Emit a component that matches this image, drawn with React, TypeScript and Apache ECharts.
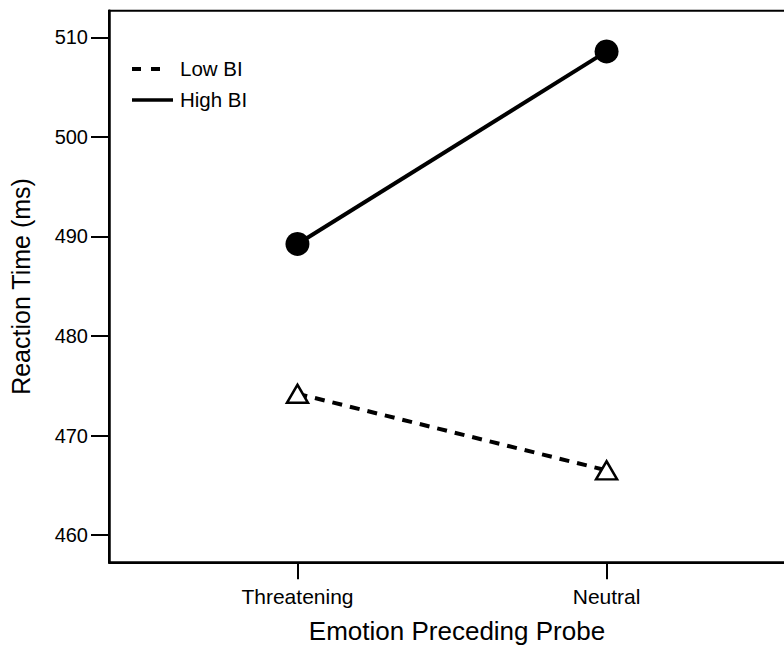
import React, { useEffect, useRef } from "react";
import * as echarts from "echarts";

const categories = ["Threatening", "Neutral"];
const lowBI = [474.2, 466.5];
const highBI = [489.25, 508.6];
const yTicks = [460, 470, 480, 490, 500, 510];
const xTicks = [0, 1];
const legendNames = ["Low BI", "High BI"];
const xTitle = "Emotion Preceding Probe";
const yTitle = "Reaction Time (ms)";

const FONT = "'Liberation Sans', Arial, sans-serif";

export default function App() {
  const ref = useRef<HTMLDivElement>(null);
  useEffect(() => {
    if (!ref.current) return;
    const chart = echarts.init(ref.current, undefined, { renderer: "svg" });
    const toPts = (arr: number[]) => arr.map((v, i) => [i, v]);
    chart.setOption({
      animation: false,
      backgroundColor: "#ffffff",
      textStyle: { fontFamily: FONT, color: "#000" },
      grid: {
        left: 107,
        right: 0,
        top: 10.7,
        bottom: 87.7,
        show: true,
        borderColor: "#000",
        borderWidth: 2,
        containLabel: false,
      },
      xAxis: {
        type: "value",
        min: -0.6097,
        max: 1.6419,
        name: xTitle,
        nameLocation: "middle",
        nameGap: 56,
        nameTextStyle: { fontSize: 26, color: "#000", fontFamily: FONT },
        axisLine: { show: true, onZero: false, lineStyle: { color: "#000", width: 2 } },
        axisTick: {
          show: true,
          inside: false,
          length: 17,
          customValues: xTicks,
          lineStyle: { color: "#000", width: 2 },
        },
        axisLabel: {
          show: true,
          margin: 24,
          fontSize: 21,
          color: "#000",
          fontFamily: FONT,
          customValues: xTicks,
          formatter: (v: number) => categories[Math.round(v)] ?? "",
        },
        splitLine: { show: false },
      },
      yAxis: {
        type: "value",
        min: 457.26,
        max: 512.69,
        name: yTitle,
        nameLocation: "middle",
        nameGap: 76,
        nameTextStyle: { fontSize: 25, color: "#000", fontFamily: FONT },
        axisLine: { show: true, onZero: false, lineStyle: { color: "#000", width: 2.5 } },
        axisTick: {
          show: true,
          inside: false,
          length: 18,
          customValues: yTicks,
          lineStyle: { color: "#000", width: 2 },
        },
        axisLabel: {
          show: true,
          margin: 21,
          fontSize: 20,
          color: "#000",
          fontFamily: FONT,
          customValues: yTicks,
        },
        splitLine: { show: false },
      },
      graphic: [
        {
          type: "line",
          shape: { x1: 132, y1: 69, x2: 162, y2: 69 },
          style: { stroke: "#000", lineWidth: 4, lineDash: [9, 10] },
        },
        {
          type: "text",
          left: 180,
          top: 58,
          style: { text: legendNames[0], font: `20.5px ${FONT}`, fill: "#000" },
        },
        {
          type: "line",
          shape: { x1: 132, y1: 100, x2: 173, y2: 100 },
          style: { stroke: "#000", lineWidth: 3.5 },
        },
        {
          type: "text",
          left: 180,
          top: 89,
          style: { text: legendNames[1], font: `20.5px ${FONT}`, fill: "#000" },
        },
      ],
      series: [
        {
          name: legendNames[0],
          type: "line",
          data: toPts(lowBI),
          symbol: "triangle",
          symbolSize: [21, 18],
          itemStyle: { color: "#fff", borderColor: "#000", borderWidth: 2.5 },
          lineStyle: { color: "#000", width: 4, type: [10, 8] },
          z: 3,
        },
        {
          name: legendNames[1],
          type: "line",
          data: toPts(highBI),
          symbol: "circle",
          symbolSize: 24,
          itemStyle: { color: "#000", borderColor: "#000", borderWidth: 0 },
          lineStyle: { color: "#000", width: 4 },
          z: 3,
        },
      ],
    });
    return () => chart.dispose();
  }, []);
  return (
    <div
      style={{
        position: "absolute",
        left: 0,
        top: 0,
        width: 784,
        height: 650,
        overflow: "hidden",
      }}
    >
      <div ref={ref} style={{ width: 805, height: 650 }} />
    </div>
  );
}
